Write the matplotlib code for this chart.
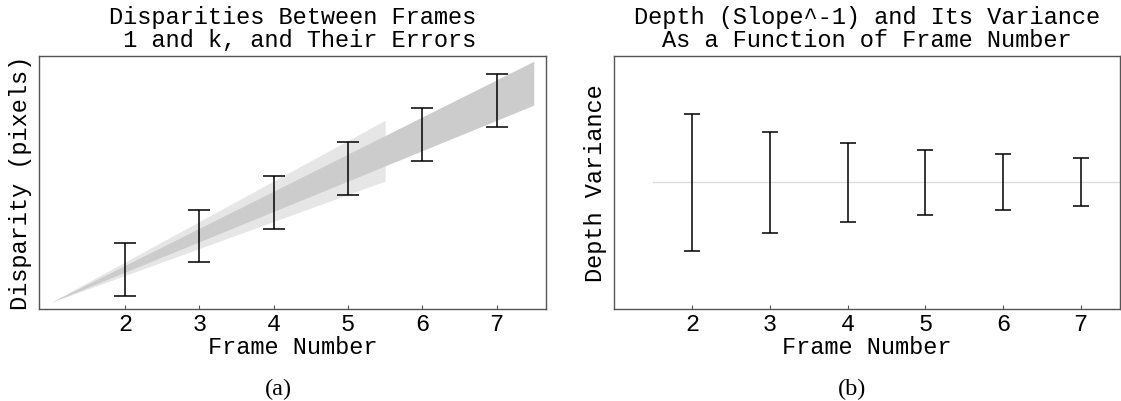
import matplotlib
matplotlib.use("Agg")
import matplotlib.pyplot as plt

# panel (a): disparities between frame 1 and frame k
frames = [2, 3, 4, 5, 6, 7]
disparity = [0.98, 1.97, 2.97, 3.98, 4.98, 5.98]
disparity_err = [0.78, 0.78, 0.78, 0.78, 0.78, 0.78]
# slope bands (start at frame 1, zero disparity)
fan_start = 1.0
dark_end, dark_slopes = 7.5, (0.9, 1.1)
light_end, light_slopes = 5.5, (0.8, 1.2)

# panel (b): depth and its variance
depth = [1.0, 1.0, 1.0, 1.0, 1.0, 1.0]
depth_err = [0.540, 0.397, 0.312, 0.258, 0.220, 0.191]
depth_line_x = [1.5, 7.5]
depth_line_y = [1.0, 1.0]

mono = "Liberation Mono"
serif = "Liberation Serif"
fs = 17
spine_col = "#555555"

fig = plt.figure(figsize=(11.21, 4.02), dpi=100)
W, H = 1121, 402


def px_axes(x0, y0, x1, y1):
    return fig.add_axes([x0 / W, 1 - y1 / H, (x1 - x0) / W, (y1 - y0) / H])


def style(ax):
    for s in ax.spines.values():
        s.set_color(spine_col)
        s.set_linewidth(1.0)
    ax.set_yticks([])
    ax.set_xticks(frames)
    ax.tick_params(axis="x", direction="in", length=3, width=0.8,
                   color=spine_col, pad=2, labelsize=fs)
    for lab in ax.get_xticklabels():
        lab.set_fontfamily(mono)


ax1 = px_axes(39.3, 56.5, 545.7, 310)
for end, (lo, hi), col in [(light_end, light_slopes, "#e6e6e6"),
                           (dark_end, dark_slopes, "#cccccc")]:
    xs = [fan_start, end]
    ax1.fill_between(xs, [lo * (x - fan_start) for x in xs],
                     [hi * (x - fan_start) for x in xs],
                     color=col, linewidth=0)
ax1.errorbar(frames, disparity, yerr=disparity_err, fmt="none",
             ecolor="black", elinewidth=1.1, capsize=8, capthick=1.1)
ax1.set_xlim(0.847, 7.66)
ax1.set_ylim(-0.193, 7.32)
style(ax1)
ax1.set_title("Disparities Between Frames\n 1 and k, and Their Errors",
              fontfamily=mono, fontsize=fs, linespacing=1.0, pad=7)
ax1.set_xlabel("Frame Number", fontfamily=mono, fontsize=fs, labelpad=0)
ax1.set_ylabel("Disparity (pixels)", fontfamily=mono, fontsize=fs, labelpad=5)

ax2 = px_axes(614.4, 56.5, 1119.5, 310)
ax2.plot(depth_line_x, depth_line_y, color="#dddddd", linewidth=1.0)
ax2.errorbar(frames, depth, yerr=depth_err, fmt="none",
             ecolor="black", elinewidth=1.1, capsize=6, capthick=1.1)
ax2.set_xlim(1.0, 7.5)
ax2.set_ylim(0.0, 2.0)
style(ax2)
ax2.set_title("Depth (Slope^-1) and Its Variance\nAs a Function of Frame Number",
              fontfamily=mono, fontsize=fs, linespacing=1.0, pad=7)
ax2.set_xlabel("Frame Number", fontfamily=mono, fontsize=fs, labelpad=0)
ax2.set_ylabel("Depth Variance", fontfamily=mono, fontsize=fs, labelpad=5)

fig.text(278 / W, 1 - 389 / H, "(a)", fontfamily=serif, fontsize=17.5,
         ha="center", va="center")
fig.text(852 / W, 1 - 389 / H, "(b)", fontfamily=serif, fontsize=17.5,
         ha="center", va="center")

fig.savefig("out.png", dpi=100)
